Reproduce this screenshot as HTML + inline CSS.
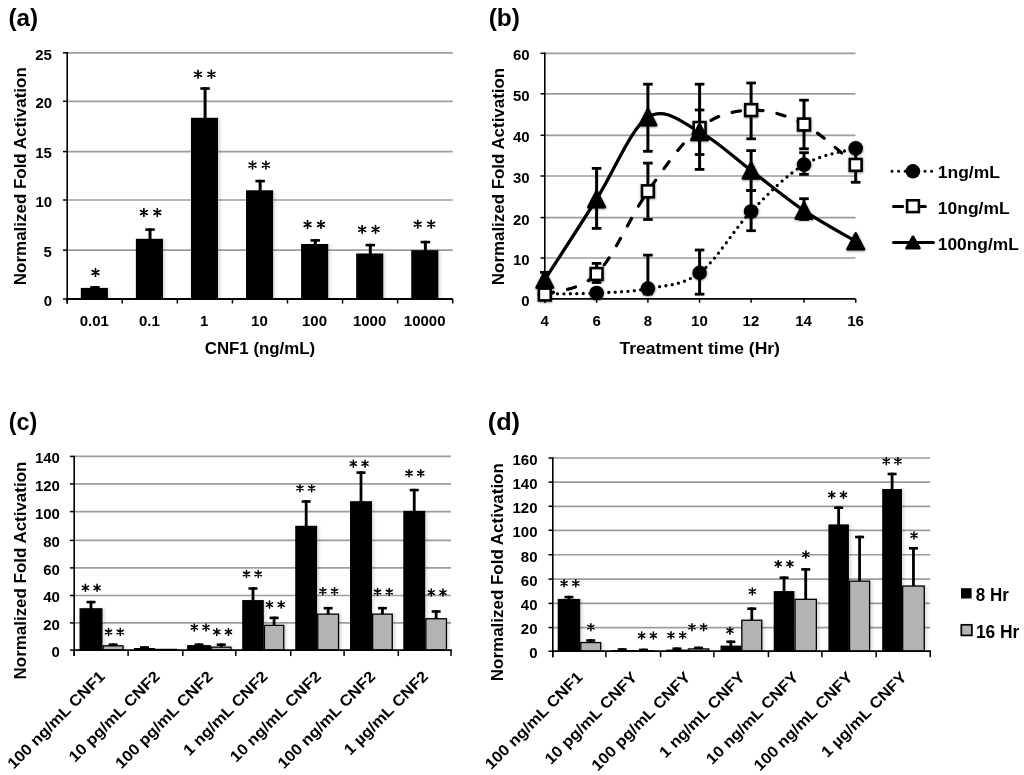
<!DOCTYPE html>
<html><head><meta charset="utf-8"><style>
html,body{margin:0;padding:0;background:#fff;}
body{width:1024px;height:775px;overflow:hidden;}
svg{display:block;filter:blur(0.35px);}
text{font-family:"Liberation Sans", sans-serif;font-weight:bold;fill:#000;}
</style></head><body>
<svg width="1024" height="775" viewBox="0 0 1024 775">
<defs><filter id="msh" x="-30%" y="-30%" width="160%" height="160%"><feDropShadow dx="0.3" dy="0.8" stdDeviation="0.9" flood-color="#000" flood-opacity="0.45"/></filter><filter id="bsh" x="-20%" y="-5%" width="140%" height="110%"><feDropShadow dx="2.2" dy="0.6" stdDeviation="1.4" flood-color="#000" flood-opacity="0.13"/></filter></defs>
<rect width="1024" height="775" fill="#fff"/>
<text x="8.49" y="25.70" font-size="24.50" textLength="29.61" lengthAdjust="spacingAndGlyphs">(a)</text>
<line x1="67.20" y1="250.20" x2="452.70" y2="250.20" stroke="#9c9c9c" stroke-width="1.7" />
<line x1="67.20" y1="200.00" x2="452.70" y2="200.00" stroke="#9c9c9c" stroke-width="1.7" />
<line x1="67.20" y1="151.60" x2="452.70" y2="151.60" stroke="#9c9c9c" stroke-width="1.7" />
<line x1="67.20" y1="101.30" x2="452.70" y2="101.30" stroke="#9c9c9c" stroke-width="1.7" />
<line x1="67.20" y1="52.80" x2="452.70" y2="52.80" stroke="#9c9c9c" stroke-width="1.7" />
<line x1="63.00" y1="250.20" x2="67.20" y2="250.20" stroke="#000" stroke-width="1.5" />
<line x1="63.00" y1="200.00" x2="67.20" y2="200.00" stroke="#000" stroke-width="1.5" />
<line x1="63.00" y1="151.60" x2="67.20" y2="151.60" stroke="#000" stroke-width="1.5" />
<line x1="63.00" y1="101.30" x2="67.20" y2="101.30" stroke="#000" stroke-width="1.5" />
<line x1="63.00" y1="52.80" x2="67.20" y2="52.80" stroke="#000" stroke-width="1.5" />
<line x1="63.00" y1="299.00" x2="67.20" y2="299.00" stroke="#000" stroke-width="1.5" />
<rect x="93.45" y="286.10" width="3.00" height="2.80" fill="#000"/>
<rect x="90.20" y="286.10" width="9.50" height="2.60" fill="#000"/>
<g filter="url(#bsh)">
<rect x="80.80" y="287.90" width="27.10" height="11.10" fill="#000"/>
</g>
<path d="M95.50,276.40L95.50,268.60M92.12,274.45L98.88,270.55M92.12,270.55L98.88,274.45" stroke="#000" stroke-width="1.65" stroke-linecap="round" fill="none"/>
<rect x="148.52" y="228.30" width="3.00" height="11.50" fill="#000"/>
<rect x="145.27" y="228.30" width="9.50" height="2.60" fill="#000"/>
<g filter="url(#bsh)">
<rect x="135.87" y="238.80" width="27.10" height="60.20" fill="#000"/>
</g>
<path d="M143.90,216.40L143.90,208.60M140.52,214.45L147.28,210.55M140.52,210.55L147.28,214.45" stroke="#000" stroke-width="1.65" stroke-linecap="round" fill="none"/>
<path d="M157.30,216.40L157.30,208.60M153.92,214.45L160.68,210.55M153.92,210.55L160.68,214.45" stroke="#000" stroke-width="1.65" stroke-linecap="round" fill="none"/>
<rect x="203.59" y="87.20" width="3.00" height="31.60" fill="#000"/>
<rect x="200.34" y="87.20" width="9.50" height="2.60" fill="#000"/>
<g filter="url(#bsh)">
<rect x="190.94" y="117.80" width="27.10" height="181.20" fill="#000"/>
</g>
<path d="M198.00,78.20L198.00,70.40M194.62,76.25L201.38,72.35M194.62,72.35L201.38,76.25" stroke="#000" stroke-width="1.65" stroke-linecap="round" fill="none"/>
<path d="M211.40,78.20L211.40,70.40M208.02,76.25L214.78,72.35M208.02,72.35L214.78,76.25" stroke="#000" stroke-width="1.65" stroke-linecap="round" fill="none"/>
<rect x="258.66" y="179.80" width="3.00" height="11.50" fill="#000"/>
<rect x="255.41" y="179.80" width="9.50" height="2.60" fill="#000"/>
<g filter="url(#bsh)">
<rect x="246.01" y="190.30" width="27.10" height="108.70" fill="#000"/>
</g>
<path d="M252.50,169.00L252.50,161.20M249.12,167.05L255.88,163.15M249.12,163.15L255.88,167.05" stroke="#000" stroke-width="1.65" stroke-linecap="round" fill="none"/>
<path d="M265.90,169.00L265.90,161.20M262.52,167.05L269.28,163.15M262.52,163.15L269.28,167.05" stroke="#000" stroke-width="1.65" stroke-linecap="round" fill="none"/>
<rect x="313.74" y="239.10" width="3.00" height="5.90" fill="#000"/>
<rect x="310.49" y="239.10" width="9.50" height="2.60" fill="#000"/>
<g filter="url(#bsh)">
<rect x="301.09" y="244.00" width="27.10" height="55.00" fill="#000"/>
</g>
<path d="M307.55,228.40L307.55,220.60M304.17,226.45L310.93,222.55M304.17,222.55L310.93,226.45" stroke="#000" stroke-width="1.65" stroke-linecap="round" fill="none"/>
<path d="M320.95,228.40L320.95,220.60M317.57,226.45L324.33,222.55M317.57,222.55L324.33,226.45" stroke="#000" stroke-width="1.65" stroke-linecap="round" fill="none"/>
<rect x="368.81" y="243.80" width="3.00" height="10.70" fill="#000"/>
<rect x="365.56" y="243.80" width="9.50" height="2.60" fill="#000"/>
<g filter="url(#bsh)">
<rect x="356.16" y="253.50" width="27.10" height="45.50" fill="#000"/>
</g>
<path d="M362.15,233.30L362.15,225.50M358.77,231.35L365.53,227.45M358.77,227.45L365.53,231.35" stroke="#000" stroke-width="1.65" stroke-linecap="round" fill="none"/>
<path d="M375.55,233.30L375.55,225.50M372.17,231.35L378.93,227.45M372.17,227.45L378.93,231.35" stroke="#000" stroke-width="1.65" stroke-linecap="round" fill="none"/>
<rect x="423.88" y="240.80" width="3.00" height="10.40" fill="#000"/>
<rect x="420.63" y="240.80" width="9.50" height="2.60" fill="#000"/>
<g filter="url(#bsh)">
<rect x="411.23" y="250.20" width="27.10" height="48.80" fill="#000"/>
</g>
<path d="M417.75,228.10L417.75,220.30M414.37,226.15L421.13,222.25M414.37,222.25L421.13,226.15" stroke="#000" stroke-width="1.65" stroke-linecap="round" fill="none"/>
<path d="M431.15,228.10L431.15,220.30M427.77,226.15L434.53,222.25M427.77,222.25L434.53,226.15" stroke="#000" stroke-width="1.65" stroke-linecap="round" fill="none"/>
<line x1="67.20" y1="52.00" x2="67.20" y2="303.50" stroke="#000" stroke-width="1.6" />
<rect x="68.20" y="299.00" width="389.50" height="6.00" fill="#fff"/>
<line x1="66.40" y1="299.00" x2="452.70" y2="299.00" stroke="#000" stroke-width="1.8" />
<line x1="67.20" y1="299.00" x2="67.20" y2="303.50" stroke="#000" stroke-width="1.5" />
<line x1="122.27" y1="299.00" x2="122.27" y2="303.50" stroke="#000" stroke-width="1.5" />
<line x1="177.34" y1="299.00" x2="177.34" y2="303.50" stroke="#000" stroke-width="1.5" />
<line x1="232.41" y1="299.00" x2="232.41" y2="303.50" stroke="#000" stroke-width="1.5" />
<line x1="287.49" y1="299.00" x2="287.49" y2="303.50" stroke="#000" stroke-width="1.5" />
<line x1="342.56" y1="299.00" x2="342.56" y2="303.50" stroke="#000" stroke-width="1.5" />
<line x1="397.63" y1="299.00" x2="397.63" y2="303.50" stroke="#000" stroke-width="1.5" />
<line x1="452.70" y1="299.00" x2="452.70" y2="303.50" stroke="#000" stroke-width="1.5" />
<text x="79.73" y="326.30" font-size="14.00" textLength="29.16" lengthAdjust="spacingAndGlyphs">0.01</text>
<text x="138.97" y="326.30" font-size="14.00" textLength="20.82" lengthAdjust="spacingAndGlyphs">0.1</text>
<text x="200.11" y="326.30" font-size="14.00" textLength="8.33" lengthAdjust="spacingAndGlyphs">1</text>
<text x="251.12" y="326.30" font-size="14.00" textLength="16.66" lengthAdjust="spacingAndGlyphs">10</text>
<text x="302.02" y="326.30" font-size="14.00" textLength="24.99" lengthAdjust="spacingAndGlyphs">100</text>
<text x="352.93" y="326.30" font-size="14.00" textLength="33.32" lengthAdjust="spacingAndGlyphs">1000</text>
<text x="403.84" y="326.30" font-size="14.00" textLength="41.66" lengthAdjust="spacingAndGlyphs">10000</text>
<text x="43.78" y="305.70" font-size="14.00" textLength="8.33" lengthAdjust="spacingAndGlyphs">0</text>
<text x="43.59" y="256.90" font-size="14.00" textLength="8.33" lengthAdjust="spacingAndGlyphs">5</text>
<text x="35.45" y="206.70" font-size="14.00" textLength="16.66" lengthAdjust="spacingAndGlyphs">10</text>
<text x="35.25" y="158.30" font-size="14.00" textLength="16.66" lengthAdjust="spacingAndGlyphs">15</text>
<text x="35.45" y="108.00" font-size="14.00" textLength="16.66" lengthAdjust="spacingAndGlyphs">20</text>
<text x="35.25" y="59.50" font-size="14.00" textLength="16.66" lengthAdjust="spacingAndGlyphs">25</text>
<text x="204.81" y="354.30" font-size="17.00" textLength="110.23" lengthAdjust="spacingAndGlyphs">CNF1 (ng/mL)</text>
<text transform="translate(26.00,285.13) rotate(-90)" x="0" y="0" font-size="17.00" textLength="217.88" lengthAdjust="spacingAndGlyphs">Normalized Fold Activation</text>
<text x="488.68" y="25.90" font-size="24.50" textLength="31.35" lengthAdjust="spacingAndGlyphs">(b)</text>
<line x1="544.80" y1="258.00" x2="855.50" y2="258.00" stroke="#9c9c9c" stroke-width="1.7" />
<line x1="544.80" y1="217.60" x2="855.50" y2="217.60" stroke="#9c9c9c" stroke-width="1.7" />
<line x1="544.80" y1="176.00" x2="855.50" y2="176.00" stroke="#9c9c9c" stroke-width="1.7" />
<line x1="544.80" y1="135.30" x2="855.50" y2="135.30" stroke="#9c9c9c" stroke-width="1.7" />
<line x1="544.80" y1="93.80" x2="855.50" y2="93.80" stroke="#9c9c9c" stroke-width="1.7" />
<line x1="544.80" y1="53.30" x2="855.50" y2="53.30" stroke="#9c9c9c" stroke-width="1.7" />
<line x1="540.50" y1="298.80" x2="544.80" y2="298.80" stroke="#000" stroke-width="1.5" />
<text x="521.38" y="305.90" font-size="14.00" textLength="8.33" lengthAdjust="spacingAndGlyphs">0</text>
<line x1="540.50" y1="258.00" x2="544.80" y2="258.00" stroke="#000" stroke-width="1.5" />
<text x="513.05" y="265.10" font-size="14.00" textLength="16.66" lengthAdjust="spacingAndGlyphs">10</text>
<line x1="540.50" y1="217.60" x2="544.80" y2="217.60" stroke="#000" stroke-width="1.5" />
<text x="513.05" y="224.70" font-size="14.00" textLength="16.66" lengthAdjust="spacingAndGlyphs">20</text>
<line x1="540.50" y1="176.00" x2="544.80" y2="176.00" stroke="#000" stroke-width="1.5" />
<text x="513.05" y="183.10" font-size="14.00" textLength="16.66" lengthAdjust="spacingAndGlyphs">30</text>
<line x1="540.50" y1="135.30" x2="544.80" y2="135.30" stroke="#000" stroke-width="1.5" />
<text x="513.05" y="142.40" font-size="14.00" textLength="16.66" lengthAdjust="spacingAndGlyphs">40</text>
<line x1="540.50" y1="93.80" x2="544.80" y2="93.80" stroke="#000" stroke-width="1.5" />
<text x="513.05" y="100.90" font-size="14.00" textLength="16.66" lengthAdjust="spacingAndGlyphs">50</text>
<line x1="540.50" y1="53.30" x2="544.80" y2="53.30" stroke="#000" stroke-width="1.5" />
<text x="513.05" y="60.40" font-size="14.00" textLength="16.66" lengthAdjust="spacingAndGlyphs">60</text>
<line x1="544.80" y1="52.50" x2="544.80" y2="302.80" stroke="#000" stroke-width="1.6" />
<line x1="544.00" y1="298.80" x2="855.50" y2="298.80" stroke="#000" stroke-width="1.8" />
<line x1="544.80" y1="298.80" x2="544.80" y2="302.80" stroke="#000" stroke-width="1.5" />
<text x="540.56" y="325.70" font-size="14.00" textLength="8.33" lengthAdjust="spacingAndGlyphs">4</text>
<line x1="596.60" y1="298.80" x2="596.60" y2="302.80" stroke="#000" stroke-width="1.5" />
<text x="592.43" y="325.70" font-size="14.00" textLength="8.33" lengthAdjust="spacingAndGlyphs">6</text>
<line x1="647.90" y1="298.80" x2="647.90" y2="302.80" stroke="#000" stroke-width="1.5" />
<text x="643.73" y="325.70" font-size="14.00" textLength="8.33" lengthAdjust="spacingAndGlyphs">8</text>
<line x1="699.60" y1="298.80" x2="699.60" y2="302.80" stroke="#000" stroke-width="1.5" />
<text x="691.10" y="325.70" font-size="14.00" textLength="16.66" lengthAdjust="spacingAndGlyphs">10</text>
<line x1="751.10" y1="298.80" x2="751.10" y2="302.80" stroke="#000" stroke-width="1.5" />
<text x="742.60" y="325.70" font-size="14.00" textLength="16.66" lengthAdjust="spacingAndGlyphs">12</text>
<line x1="804.00" y1="298.80" x2="804.00" y2="302.80" stroke="#000" stroke-width="1.5" />
<text x="795.24" y="325.70" font-size="14.00" textLength="16.66" lengthAdjust="spacingAndGlyphs">14</text>
<line x1="855.70" y1="298.80" x2="855.70" y2="302.80" stroke="#000" stroke-width="1.5" />
<text x="847.17" y="325.70" font-size="14.00" textLength="16.66" lengthAdjust="spacingAndGlyphs">16</text>
<text x="619.50" y="353.60" font-size="17.00" textLength="160.46" lengthAdjust="spacingAndGlyphs">Treatment time (Hr)</text>
<text transform="translate(503.80,285.13) rotate(-90)" x="0" y="0" font-size="17.00" textLength="217.27" lengthAdjust="spacingAndGlyphs">Normalized Fold Activation</text>
<path d="M544.80,294.00 C553.43,293.83 579.42,293.90 596.60,293.00 C613.78,292.10 630.73,291.95 647.90,288.60 C665.07,285.25 682.40,285.75 699.60,272.90 C716.80,260.05 733.70,229.55 751.10,211.50 C768.50,193.45 786.57,175.12 804.00,164.60 C821.43,154.08 847.08,151.10 855.70,148.40" fill="none" stroke="#000" stroke-width="3.3" stroke-linecap="round" stroke-dasharray="0 6.4"/>
<path d="M544.80,294.50 C553.43,291.08 579.42,291.20 596.60,274.00 C613.78,256.80 630.73,215.63 647.90,191.30 C665.07,166.97 682.40,141.53 699.60,128.00 C716.80,114.47 733.70,110.68 751.10,110.10 C768.50,109.52 786.57,115.37 804.00,124.50 C821.43,133.63 847.08,158.17 855.70,164.90" fill="none" stroke="#000" stroke-width="3.2" stroke-linecap="round" stroke-dasharray="8.5 14.15" stroke-dashoffset="-0.6"/>
<path d="M544.80,279.60 C553.43,266.20 579.42,226.27 596.60,199.20 C613.78,172.13 630.73,128.42 647.90,117.20 C665.07,105.98 682.40,123.02 699.60,131.90 C716.80,140.78 733.70,157.38 751.10,170.50 C768.50,183.62 786.57,198.80 804.00,210.60 C821.43,222.40 847.08,236.18 855.70,241.30" fill="none" stroke="#000" stroke-width="3.3" stroke-linecap="round"/>
<rect x="646.40" y="255.10" width="3.00" height="38.90" fill="#000"/>
<rect x="643.10" y="253.70" width="9.60" height="2.80" fill="#000"/>
<rect x="643.10" y="292.60" width="9.60" height="2.80" fill="#000"/>
<rect x="698.10" y="250.00" width="3.00" height="44.20" fill="#000"/>
<rect x="694.80" y="248.60" width="9.60" height="2.80" fill="#000"/>
<rect x="694.80" y="292.80" width="9.60" height="2.80" fill="#000"/>
<rect x="749.60" y="190.40" width="3.00" height="40.30" fill="#000"/>
<rect x="746.30" y="189.00" width="9.60" height="2.80" fill="#000"/>
<rect x="746.30" y="229.30" width="9.60" height="2.80" fill="#000"/>
<rect x="802.50" y="152.70" width="3.00" height="21.70" fill="#000"/>
<rect x="799.20" y="151.30" width="9.60" height="2.80" fill="#000"/>
<rect x="799.20" y="173.00" width="9.60" height="2.80" fill="#000"/>
<rect x="595.10" y="263.40" width="3.00" height="19.10" fill="#000"/>
<rect x="591.80" y="262.00" width="9.60" height="2.80" fill="#000"/>
<rect x="591.80" y="281.10" width="9.60" height="2.80" fill="#000"/>
<rect x="646.40" y="163.10" width="3.00" height="56.40" fill="#000"/>
<rect x="643.10" y="161.70" width="9.60" height="2.80" fill="#000"/>
<rect x="643.10" y="218.10" width="9.60" height="2.80" fill="#000"/>
<rect x="698.10" y="84.20" width="3.00" height="85.20" fill="#000"/>
<rect x="694.80" y="82.80" width="9.60" height="2.80" fill="#000"/>
<rect x="694.80" y="168.00" width="9.60" height="2.80" fill="#000"/>
<rect x="749.60" y="83.00" width="3.00" height="55.80" fill="#000"/>
<rect x="746.30" y="81.60" width="9.60" height="2.80" fill="#000"/>
<rect x="746.30" y="137.40" width="9.60" height="2.80" fill="#000"/>
<rect x="802.50" y="100.20" width="3.00" height="48.60" fill="#000"/>
<rect x="799.20" y="98.80" width="9.60" height="2.80" fill="#000"/>
<rect x="799.20" y="147.40" width="9.60" height="2.80" fill="#000"/>
<rect x="854.20" y="147.50" width="3.00" height="34.80" fill="#000"/>
<rect x="850.90" y="146.10" width="9.60" height="2.80" fill="#000"/>
<rect x="850.90" y="180.90" width="9.60" height="2.80" fill="#000"/>
<rect x="543.30" y="272.40" width="3.00" height="12.60" fill="#000"/>
<rect x="540.00" y="271.00" width="9.60" height="2.80" fill="#000"/>
<rect x="540.00" y="283.60" width="9.60" height="2.80" fill="#000"/>
<rect x="595.10" y="168.40" width="3.00" height="60.00" fill="#000"/>
<rect x="591.80" y="167.00" width="9.60" height="2.80" fill="#000"/>
<rect x="591.80" y="227.00" width="9.60" height="2.80" fill="#000"/>
<rect x="646.40" y="84.20" width="3.00" height="67.10" fill="#000"/>
<rect x="643.10" y="82.80" width="9.60" height="2.80" fill="#000"/>
<rect x="643.10" y="149.90" width="9.60" height="2.80" fill="#000"/>
<rect x="698.10" y="110.00" width="3.00" height="44.50" fill="#000"/>
<rect x="694.80" y="108.60" width="9.60" height="2.80" fill="#000"/>
<rect x="694.80" y="153.10" width="9.60" height="2.80" fill="#000"/>
<rect x="749.60" y="150.60" width="3.00" height="39.80" fill="#000"/>
<rect x="746.30" y="149.20" width="9.60" height="2.80" fill="#000"/>
<rect x="746.30" y="189.00" width="9.60" height="2.80" fill="#000"/>
<rect x="802.50" y="198.70" width="3.00" height="20.80" fill="#000"/>
<rect x="799.20" y="197.30" width="9.60" height="2.80" fill="#000"/>
<rect x="799.20" y="218.10" width="9.60" height="2.80" fill="#000"/>
<g filter="url(#msh)">
<circle cx="544.80" cy="294.00" r="7.3" fill="#000"/>
<circle cx="596.60" cy="293.00" r="7.3" fill="#000"/>
<circle cx="647.90" cy="288.60" r="7.3" fill="#000"/>
<circle cx="699.60" cy="272.90" r="7.3" fill="#000"/>
<circle cx="751.10" cy="211.50" r="7.3" fill="#000"/>
<circle cx="804.00" cy="164.60" r="7.3" fill="#000"/>
<circle cx="855.70" cy="148.40" r="7.3" fill="#000"/>
<rect x="538.90" y="288.60" width="11.8" height="11.8" fill="#fff" stroke="#000" stroke-width="2.6"/>
<rect x="590.70" y="268.10" width="11.8" height="11.8" fill="#fff" stroke="#000" stroke-width="2.6"/>
<rect x="642.00" y="185.40" width="11.8" height="11.8" fill="#fff" stroke="#000" stroke-width="2.6"/>
<rect x="693.70" y="122.10" width="11.8" height="11.8" fill="#fff" stroke="#000" stroke-width="2.6"/>
<rect x="745.20" y="104.20" width="11.8" height="11.8" fill="#fff" stroke="#000" stroke-width="2.6"/>
<rect x="798.10" y="118.60" width="11.8" height="11.8" fill="#fff" stroke="#000" stroke-width="2.6"/>
<rect x="849.80" y="159.00" width="11.8" height="11.8" fill="#fff" stroke="#000" stroke-width="2.6"/>
<path d="M544.80,271.60 L553.05,287.60 L536.55,287.60 Z" fill="#000" stroke="#000" stroke-width="2.6" stroke-linejoin="round"/>
<path d="M596.60,191.20 L604.85,207.20 L588.35,207.20 Z" fill="#000" stroke="#000" stroke-width="2.6" stroke-linejoin="round"/>
<path d="M647.90,109.20 L656.15,125.20 L639.65,125.20 Z" fill="#000" stroke="#000" stroke-width="2.6" stroke-linejoin="round"/>
<path d="M699.60,123.90 L707.85,139.90 L691.35,139.90 Z" fill="#000" stroke="#000" stroke-width="2.6" stroke-linejoin="round"/>
<path d="M751.10,162.50 L759.35,178.50 L742.85,178.50 Z" fill="#000" stroke="#000" stroke-width="2.6" stroke-linejoin="round"/>
<path d="M804.00,202.60 L812.25,218.60 L795.75,218.60 Z" fill="#000" stroke="#000" stroke-width="2.6" stroke-linejoin="round"/>
<path d="M855.70,233.30 L863.95,249.30 L847.45,249.30 Z" fill="#000" stroke="#000" stroke-width="2.6" stroke-linejoin="round"/>
</g>
<path d="M892,171.3 L934,171.3" stroke="#000" stroke-width="3.1" stroke-linecap="round" stroke-dasharray="0 6.6"/>
<circle cx="912.90" cy="171.30" r="7.3" fill="#000"/>
<path d="M893.5,206.5 L926,206.5" stroke="#000" stroke-width="3" stroke-linecap="round" stroke-dasharray="9.2 13.45"/>
<rect x="907.10" y="200.30" width="11.8" height="11.8" fill="#fff" stroke="#000" stroke-width="2.6"/>
<path d="M893.5,242.5 L933.5,242.5" stroke="#000" stroke-width="3" stroke-linecap="round"/>
<path d="M913.00,236.75 L919.50,248.25 L906.50,248.25 Z" fill="#000" stroke="#000" stroke-width="2.6" stroke-linejoin="round"/>
<text x="937.80" y="177.70" font-size="16.60" textLength="62.14" lengthAdjust="spacingAndGlyphs">1ng/mL</text>
<text x="937.80" y="214.10" font-size="16.60" textLength="71.84" lengthAdjust="spacingAndGlyphs">10ng/mL</text>
<text x="937.81" y="250.00" font-size="16.60" textLength="81.03" lengthAdjust="spacingAndGlyphs">100ng/mL</text>
<text x="8.74" y="430.00" font-size="24.50" textLength="28.52" lengthAdjust="spacingAndGlyphs">(c)</text>
<line x1="74.20" y1="622.90" x2="451.00" y2="622.90" stroke="#9c9c9c" stroke-width="1.7" />
<line x1="74.20" y1="595.50" x2="451.00" y2="595.50" stroke="#9c9c9c" stroke-width="1.7" />
<line x1="74.20" y1="567.90" x2="451.00" y2="567.90" stroke="#9c9c9c" stroke-width="1.7" />
<line x1="74.20" y1="540.40" x2="451.00" y2="540.40" stroke="#9c9c9c" stroke-width="1.7" />
<line x1="74.20" y1="511.60" x2="451.00" y2="511.60" stroke="#9c9c9c" stroke-width="1.7" />
<line x1="74.20" y1="483.90" x2="451.00" y2="483.90" stroke="#9c9c9c" stroke-width="1.7" />
<line x1="74.20" y1="456.40" x2="451.00" y2="456.40" stroke="#9c9c9c" stroke-width="1.7" />
<line x1="69.90" y1="650.10" x2="74.20" y2="650.10" stroke="#000" stroke-width="1.5" />
<text x="51.58" y="657.00" font-size="14.00" textLength="8.33" lengthAdjust="spacingAndGlyphs">0</text>
<line x1="69.90" y1="622.90" x2="74.20" y2="622.90" stroke="#000" stroke-width="1.5" />
<text x="43.25" y="629.80" font-size="14.00" textLength="16.66" lengthAdjust="spacingAndGlyphs">20</text>
<line x1="69.90" y1="595.50" x2="74.20" y2="595.50" stroke="#000" stroke-width="1.5" />
<text x="43.25" y="602.40" font-size="14.00" textLength="16.66" lengthAdjust="spacingAndGlyphs">40</text>
<line x1="69.90" y1="567.90" x2="74.20" y2="567.90" stroke="#000" stroke-width="1.5" />
<text x="43.25" y="574.80" font-size="14.00" textLength="16.66" lengthAdjust="spacingAndGlyphs">60</text>
<line x1="69.90" y1="540.40" x2="74.20" y2="540.40" stroke="#000" stroke-width="1.5" />
<text x="43.25" y="547.30" font-size="14.00" textLength="16.66" lengthAdjust="spacingAndGlyphs">80</text>
<line x1="69.90" y1="511.60" x2="74.20" y2="511.60" stroke="#000" stroke-width="1.5" />
<text x="34.92" y="518.50" font-size="14.00" textLength="24.99" lengthAdjust="spacingAndGlyphs">100</text>
<line x1="69.90" y1="483.90" x2="74.20" y2="483.90" stroke="#000" stroke-width="1.5" />
<text x="34.92" y="490.80" font-size="14.00" textLength="24.99" lengthAdjust="spacingAndGlyphs">120</text>
<line x1="69.90" y1="456.40" x2="74.20" y2="456.40" stroke="#000" stroke-width="1.5" />
<text x="34.92" y="463.30" font-size="14.00" textLength="24.99" lengthAdjust="spacingAndGlyphs">140</text>
<rect x="89.60" y="600.80" width="2.80" height="8.40" fill="#000"/>
<rect x="86.50" y="600.80" width="9.00" height="2.60" fill="#000"/>
<rect x="111.70" y="643.40" width="2.80" height="2.80" fill="#000"/>
<rect x="108.60" y="643.40" width="9.00" height="2.60" fill="#000"/>
<g filter="url(#bsh)">
<rect x="80.15" y="608.85" width="21.70" height="41.25" fill="#000" stroke="#000" stroke-width="1.3"/>
<rect x="103.15" y="645.85" width="19.90" height="4.25" fill="#b3b3b3" stroke="#000" stroke-width="1.3"/>
</g>
<rect x="143.10" y="646.20" width="2.80" height="2.70" fill="#000"/>
<rect x="140.00" y="646.20" width="9.00" height="2.60" fill="#000"/>
<g filter="url(#bsh)">
<rect x="134.65" y="648.55" width="19.70" height="1.55" fill="#000" stroke="#000" stroke-width="1.3"/>
<rect x="155.65" y="649.45" width="20.60" height="0.65" fill="#b3b3b3" stroke="#000" stroke-width="1.3"/>
</g>
<rect x="197.60" y="643.40" width="2.80" height="2.70" fill="#000"/>
<rect x="194.50" y="643.40" width="9.00" height="2.60" fill="#000"/>
<rect x="219.85" y="643.40" width="2.80" height="4.10" fill="#000"/>
<rect x="216.75" y="643.40" width="9.00" height="2.60" fill="#000"/>
<g filter="url(#bsh)">
<rect x="187.75" y="645.75" width="22.50" height="4.35" fill="#000" stroke="#000" stroke-width="1.3"/>
<rect x="211.55" y="647.15" width="19.40" height="2.95" fill="#b3b3b3" stroke="#000" stroke-width="1.3"/>
</g>
<rect x="251.60" y="587.20" width="2.80" height="13.90" fill="#000"/>
<rect x="248.50" y="587.20" width="9.00" height="2.60" fill="#000"/>
<rect x="272.70" y="616.60" width="2.80" height="9.10" fill="#000"/>
<rect x="269.60" y="616.60" width="9.00" height="2.60" fill="#000"/>
<g filter="url(#bsh)">
<rect x="242.85" y="600.75" width="20.30" height="49.35" fill="#000" stroke="#000" stroke-width="1.3"/>
<rect x="264.45" y="625.35" width="19.30" height="24.75" fill="#b3b3b3" stroke="#000" stroke-width="1.3"/>
</g>
<rect x="304.78" y="500.20" width="2.80" height="26.60" fill="#000"/>
<rect x="301.68" y="500.20" width="9.00" height="2.60" fill="#000"/>
<rect x="326.75" y="606.90" width="2.80" height="7.60" fill="#000"/>
<rect x="323.65" y="606.90" width="9.00" height="2.60" fill="#000"/>
<g filter="url(#bsh)">
<rect x="295.90" y="526.45" width="20.55" height="123.65" fill="#000" stroke="#000" stroke-width="1.3"/>
<rect x="317.75" y="614.15" width="20.80" height="35.95" fill="#b3b3b3" stroke="#000" stroke-width="1.3"/>
</g>
<rect x="359.60" y="471.30" width="2.80" height="30.90" fill="#000"/>
<rect x="356.50" y="471.30" width="9.00" height="2.60" fill="#000"/>
<rect x="381.05" y="606.90" width="2.80" height="7.60" fill="#000"/>
<rect x="377.95" y="606.90" width="9.00" height="2.60" fill="#000"/>
<g filter="url(#bsh)">
<rect x="350.65" y="501.85" width="20.70" height="148.25" fill="#000" stroke="#000" stroke-width="1.3"/>
<rect x="372.65" y="614.15" width="19.60" height="35.95" fill="#b3b3b3" stroke="#000" stroke-width="1.3"/>
</g>
<rect x="412.85" y="488.80" width="2.80" height="23.10" fill="#000"/>
<rect x="409.75" y="488.80" width="9.00" height="2.60" fill="#000"/>
<rect x="434.75" y="610.20" width="2.80" height="8.90" fill="#000"/>
<rect x="431.65" y="610.20" width="9.00" height="2.60" fill="#000"/>
<g filter="url(#bsh)">
<rect x="403.95" y="511.55" width="20.60" height="138.55" fill="#000" stroke="#000" stroke-width="1.3"/>
<rect x="425.85" y="618.75" width="20.60" height="31.35" fill="#b3b3b3" stroke="#000" stroke-width="1.3"/>
</g>
<path d="M85.40,591.30L85.40,584.30M82.37,589.55L88.43,586.05M82.37,586.05L88.43,589.55" stroke="#000" stroke-width="1.55" stroke-linecap="round" fill="none"/>
<path d="M97.10,591.30L97.10,584.30M94.07,589.55L100.13,586.05M94.07,586.05L100.13,589.55" stroke="#000" stroke-width="1.55" stroke-linecap="round" fill="none"/>
<path d="M108.55,635.50L108.55,628.50M105.52,633.75L111.58,630.25M105.52,630.25L111.58,633.75" stroke="#000" stroke-width="1.55" stroke-linecap="round" fill="none"/>
<path d="M120.25,635.50L120.25,628.50M117.22,633.75L123.28,630.25M117.22,630.25L123.28,633.75" stroke="#000" stroke-width="1.55" stroke-linecap="round" fill="none"/>
<path d="M194.30,630.90L194.30,623.90M191.27,629.15L197.33,625.65M191.27,625.65L197.33,629.15" stroke="#000" stroke-width="1.55" stroke-linecap="round" fill="none"/>
<path d="M206.00,630.90L206.00,623.90M202.97,629.15L209.03,625.65M202.97,625.65L209.03,629.15" stroke="#000" stroke-width="1.55" stroke-linecap="round" fill="none"/>
<path d="M216.80,635.40L216.80,628.40M213.77,633.65L219.83,630.15M213.77,630.15L219.83,633.65" stroke="#000" stroke-width="1.55" stroke-linecap="round" fill="none"/>
<path d="M228.50,635.40L228.50,628.40M225.47,633.65L231.53,630.15M225.47,630.15L231.53,633.65" stroke="#000" stroke-width="1.55" stroke-linecap="round" fill="none"/>
<path d="M246.50,577.50L246.50,570.50M243.47,575.75L249.53,572.25M243.47,572.25L249.53,575.75" stroke="#000" stroke-width="1.55" stroke-linecap="round" fill="none"/>
<path d="M258.20,577.50L258.20,570.50M255.17,575.75L261.23,572.25M255.17,572.25L261.23,575.75" stroke="#000" stroke-width="1.55" stroke-linecap="round" fill="none"/>
<path d="M269.50,608.10L269.50,601.10M266.47,606.35L272.53,602.85M266.47,602.85L272.53,606.35" stroke="#000" stroke-width="1.55" stroke-linecap="round" fill="none"/>
<path d="M281.20,608.10L281.20,601.10M278.17,606.35L284.23,602.85M278.17,602.85L284.23,606.35" stroke="#000" stroke-width="1.55" stroke-linecap="round" fill="none"/>
<path d="M299.95,491.70L299.95,484.70M296.92,489.95L302.98,486.45M296.92,486.45L302.98,489.95" stroke="#000" stroke-width="1.55" stroke-linecap="round" fill="none"/>
<path d="M311.65,491.70L311.65,484.70M308.62,489.95L314.68,486.45M308.62,486.45L314.68,489.95" stroke="#000" stroke-width="1.55" stroke-linecap="round" fill="none"/>
<path d="M322.85,594.70L322.85,587.70M319.82,592.95L325.88,589.45M319.82,589.45L325.88,592.95" stroke="#000" stroke-width="1.55" stroke-linecap="round" fill="none"/>
<path d="M334.55,594.70L334.55,587.70M331.52,592.95L337.58,589.45M331.52,589.45L337.58,592.95" stroke="#000" stroke-width="1.55" stroke-linecap="round" fill="none"/>
<path d="M353.35,467.20L353.35,460.20M350.32,465.45L356.38,461.95M350.32,461.95L356.38,465.45" stroke="#000" stroke-width="1.55" stroke-linecap="round" fill="none"/>
<path d="M365.05,467.20L365.05,460.20M362.02,465.45L368.08,461.95M362.02,461.95L368.08,465.45" stroke="#000" stroke-width="1.55" stroke-linecap="round" fill="none"/>
<path d="M377.55,595.50L377.55,588.50M374.52,593.75L380.58,590.25M374.52,590.25L380.58,593.75" stroke="#000" stroke-width="1.55" stroke-linecap="round" fill="none"/>
<path d="M389.25,595.50L389.25,588.50M386.22,593.75L392.28,590.25M386.22,590.25L392.28,593.75" stroke="#000" stroke-width="1.55" stroke-linecap="round" fill="none"/>
<path d="M409.05,476.75L409.05,469.75M406.02,475.00L412.08,471.50M406.02,471.50L412.08,475.00" stroke="#000" stroke-width="1.55" stroke-linecap="round" fill="none"/>
<path d="M420.75,476.75L420.75,469.75M417.72,475.00L423.78,471.50M417.72,471.50L423.78,475.00" stroke="#000" stroke-width="1.55" stroke-linecap="round" fill="none"/>
<path d="M431.25,596.10L431.25,589.10M428.22,594.35L434.28,590.85M428.22,590.85L434.28,594.35" stroke="#000" stroke-width="1.55" stroke-linecap="round" fill="none"/>
<path d="M442.95,596.10L442.95,589.10M439.92,594.35L445.98,590.85M439.92,590.85L445.98,594.35" stroke="#000" stroke-width="1.55" stroke-linecap="round" fill="none"/>
<line x1="74.20" y1="455.70" x2="74.20" y2="656.10" stroke="#000" stroke-width="1.6" />
<rect x="75.20" y="650.10" width="380.80" height="6.00" fill="#fff"/>
<line x1="73.40" y1="650.10" x2="451.80" y2="650.10" stroke="#000" stroke-width="1.8" />
<line x1="74.20" y1="650.10" x2="74.20" y2="656.10" stroke="#000" stroke-width="1.5" />
<line x1="128.10" y1="650.10" x2="128.10" y2="656.10" stroke="#000" stroke-width="1.5" />
<line x1="182.80" y1="650.10" x2="182.80" y2="656.10" stroke="#000" stroke-width="1.5" />
<line x1="235.80" y1="650.10" x2="235.80" y2="656.10" stroke="#000" stroke-width="1.5" />
<line x1="290.70" y1="650.10" x2="290.70" y2="656.10" stroke="#000" stroke-width="1.5" />
<line x1="344.10" y1="650.10" x2="344.10" y2="656.10" stroke="#000" stroke-width="1.5" />
<line x1="398.30" y1="650.10" x2="398.30" y2="656.10" stroke="#000" stroke-width="1.5" />
<line x1="451.00" y1="650.10" x2="451.00" y2="656.10" stroke="#000" stroke-width="1.5" />
<text transform="translate(13.64,769.76) rotate(-45)" x="0" y="0" font-size="15.50" textLength="130.51" lengthAdjust="spacingAndGlyphs">100 ng/mL CNF1</text>
<text transform="translate(75.04,763.06) rotate(-45)" x="0" y="0" font-size="15.50" textLength="121.25" lengthAdjust="spacingAndGlyphs">10 pg/mL CNF2</text>
<text transform="translate(121.49,769.61) rotate(-45)" x="0" y="0" font-size="15.50" textLength="130.51" lengthAdjust="spacingAndGlyphs">100 pg/mL CNF2</text>
<text transform="translate(189.49,756.51) rotate(-45)" x="0" y="0" font-size="15.50" textLength="111.98" lengthAdjust="spacingAndGlyphs">1 ng/mL CNF2</text>
<text transform="translate(236.34,763.06) rotate(-45)" x="0" y="0" font-size="15.50" textLength="121.25" lengthAdjust="spacingAndGlyphs">10 ng/mL CNF2</text>
<text transform="translate(283.99,769.61) rotate(-45)" x="0" y="0" font-size="15.50" textLength="130.51" lengthAdjust="spacingAndGlyphs">100 ng/mL CNF2</text>
<text transform="translate(350.20,756.10) rotate(-45)" x="0" y="0" font-size="15.50" textLength="111.41" lengthAdjust="spacingAndGlyphs">1 µg/mL CNF2</text>
<text transform="translate(25.50,679.43) rotate(-90)" x="0" y="0" font-size="17.00" textLength="217.78" lengthAdjust="spacingAndGlyphs">Normalized Fold Activation</text>
<text x="487.74" y="430.00" font-size="24.50" textLength="32.32" lengthAdjust="spacingAndGlyphs">(d)</text>
<line x1="552.80" y1="627.55" x2="930.20" y2="627.55" stroke="#9c9c9c" stroke-width="1.7" />
<line x1="552.80" y1="603.40" x2="930.20" y2="603.40" stroke="#9c9c9c" stroke-width="1.7" />
<line x1="552.80" y1="579.10" x2="930.20" y2="579.10" stroke="#9c9c9c" stroke-width="1.7" />
<line x1="552.80" y1="554.75" x2="930.20" y2="554.75" stroke="#9c9c9c" stroke-width="1.7" />
<line x1="552.80" y1="530.30" x2="930.20" y2="530.30" stroke="#9c9c9c" stroke-width="1.7" />
<line x1="552.80" y1="506.30" x2="930.20" y2="506.30" stroke="#9c9c9c" stroke-width="1.7" />
<line x1="552.80" y1="482.10" x2="930.20" y2="482.10" stroke="#9c9c9c" stroke-width="1.7" />
<line x1="552.80" y1="458.00" x2="930.20" y2="458.00" stroke="#9c9c9c" stroke-width="1.7" />
<line x1="548.50" y1="651.20" x2="552.80" y2="651.20" stroke="#000" stroke-width="1.5" />
<text x="529.18" y="658.10" font-size="14.00" textLength="8.33" lengthAdjust="spacingAndGlyphs">0</text>
<line x1="548.50" y1="627.55" x2="552.80" y2="627.55" stroke="#000" stroke-width="1.5" />
<text x="520.85" y="634.45" font-size="14.00" textLength="16.66" lengthAdjust="spacingAndGlyphs">20</text>
<line x1="548.50" y1="603.40" x2="552.80" y2="603.40" stroke="#000" stroke-width="1.5" />
<text x="520.85" y="610.30" font-size="14.00" textLength="16.66" lengthAdjust="spacingAndGlyphs">40</text>
<line x1="548.50" y1="579.10" x2="552.80" y2="579.10" stroke="#000" stroke-width="1.5" />
<text x="520.85" y="586.00" font-size="14.00" textLength="16.66" lengthAdjust="spacingAndGlyphs">60</text>
<line x1="548.50" y1="554.75" x2="552.80" y2="554.75" stroke="#000" stroke-width="1.5" />
<text x="520.85" y="561.65" font-size="14.00" textLength="16.66" lengthAdjust="spacingAndGlyphs">80</text>
<line x1="548.50" y1="530.30" x2="552.80" y2="530.30" stroke="#000" stroke-width="1.5" />
<text x="512.52" y="537.20" font-size="14.00" textLength="24.99" lengthAdjust="spacingAndGlyphs">100</text>
<line x1="548.50" y1="506.30" x2="552.80" y2="506.30" stroke="#000" stroke-width="1.5" />
<text x="512.52" y="513.20" font-size="14.00" textLength="24.99" lengthAdjust="spacingAndGlyphs">120</text>
<line x1="548.50" y1="482.10" x2="552.80" y2="482.10" stroke="#000" stroke-width="1.5" />
<text x="512.52" y="489.00" font-size="14.00" textLength="24.99" lengthAdjust="spacingAndGlyphs">140</text>
<line x1="548.50" y1="458.00" x2="552.80" y2="458.00" stroke="#000" stroke-width="1.5" />
<text x="512.52" y="464.90" font-size="14.00" textLength="24.99" lengthAdjust="spacingAndGlyphs">160</text>
<rect x="567.55" y="595.80" width="2.80" height="4.10" fill="#000"/>
<rect x="564.45" y="595.80" width="9.00" height="2.60" fill="#000"/>
<rect x="589.35" y="639.20" width="2.80" height="3.70" fill="#000"/>
<rect x="586.25" y="639.20" width="9.00" height="2.60" fill="#000"/>
<g filter="url(#bsh)">
<rect x="558.35" y="599.55" width="21.20" height="51.65" fill="#000" stroke="#000" stroke-width="1.3"/>
<rect x="580.85" y="642.55" width="19.80" height="8.65" fill="#b3b3b3" stroke="#000" stroke-width="1.3"/>
</g>
<rect x="620.85" y="648.20" width="2.80" height="2.80" fill="#000"/>
<rect x="617.75" y="648.20" width="9.00" height="2.60" fill="#000"/>
<rect x="642.10" y="648.60" width="2.80" height="2.60" fill="#000"/>
<rect x="639.00" y="648.60" width="9.00" height="2.60" fill="#000"/>
<g filter="url(#bsh)">
<rect x="612.15" y="650.65" width="20.20" height="0.55" fill="#000" stroke="#000" stroke-width="1.3"/>
<rect x="633.65" y="650.85" width="19.70" height="0.35" fill="#b3b3b3" stroke="#000" stroke-width="1.3"/>
</g>
<rect x="675.55" y="647.40" width="2.80" height="3.20" fill="#000"/>
<rect x="672.45" y="647.40" width="9.00" height="2.60" fill="#000"/>
<rect x="697.15" y="646.60" width="2.80" height="2.70" fill="#000"/>
<rect x="694.05" y="646.60" width="9.00" height="2.60" fill="#000"/>
<g filter="url(#bsh)">
<rect x="666.85" y="650.25" width="20.20" height="0.95" fill="#000" stroke="#000" stroke-width="1.3"/>
<rect x="688.35" y="648.95" width="20.40" height="2.25" fill="#b3b3b3" stroke="#000" stroke-width="1.3"/>
</g>
<rect x="729.45" y="640.50" width="2.80" height="6.10" fill="#000"/>
<rect x="726.35" y="640.50" width="9.00" height="2.60" fill="#000"/>
<rect x="750.40" y="607.40" width="2.80" height="13.20" fill="#000"/>
<rect x="747.30" y="607.40" width="9.00" height="2.60" fill="#000"/>
<g filter="url(#bsh)">
<rect x="721.15" y="646.25" width="19.40" height="4.95" fill="#000" stroke="#000" stroke-width="1.3"/>
<rect x="741.85" y="620.25" width="19.90" height="30.95" fill="#b3b3b3" stroke="#000" stroke-width="1.3"/>
</g>
<rect x="782.65" y="576.40" width="2.80" height="15.70" fill="#000"/>
<rect x="779.55" y="576.40" width="9.00" height="2.60" fill="#000"/>
<rect x="804.30" y="568.10" width="2.80" height="31.60" fill="#000"/>
<rect x="801.20" y="568.10" width="9.00" height="2.60" fill="#000"/>
<g filter="url(#bsh)">
<rect x="774.35" y="591.75" width="19.40" height="59.45" fill="#000" stroke="#000" stroke-width="1.3"/>
<rect x="795.05" y="599.35" width="21.30" height="51.85" fill="#b3b3b3" stroke="#000" stroke-width="1.3"/>
</g>
<rect x="837.25" y="506.40" width="2.80" height="19.00" fill="#000"/>
<rect x="834.15" y="506.40" width="9.00" height="2.60" fill="#000"/>
<rect x="858.18" y="535.70" width="2.80" height="45.80" fill="#000"/>
<rect x="855.08" y="535.70" width="9.00" height="2.60" fill="#000"/>
<g filter="url(#bsh)">
<rect x="829.05" y="525.05" width="19.20" height="126.15" fill="#000" stroke="#000" stroke-width="1.3"/>
<rect x="849.55" y="581.15" width="20.05" height="70.05" fill="#b3b3b3" stroke="#000" stroke-width="1.3"/>
</g>
<rect x="890.70" y="472.70" width="2.80" height="17.30" fill="#000"/>
<rect x="887.60" y="472.70" width="9.00" height="2.60" fill="#000"/>
<rect x="912.05" y="547.00" width="2.80" height="39.40" fill="#000"/>
<rect x="908.95" y="547.00" width="9.00" height="2.60" fill="#000"/>
<g filter="url(#bsh)">
<rect x="882.85" y="489.65" width="18.50" height="161.55" fill="#000" stroke="#000" stroke-width="1.3"/>
<rect x="902.65" y="586.05" width="21.60" height="65.15" fill="#b3b3b3" stroke="#000" stroke-width="1.3"/>
</g>
<path d="M564.10,586.80L564.10,579.80M561.07,585.05L567.13,581.55M561.07,581.55L567.13,585.05" stroke="#000" stroke-width="1.55" stroke-linecap="round" fill="none"/>
<path d="M575.80,586.80L575.80,579.80M572.77,585.05L578.83,581.55M572.77,581.55L578.83,585.05" stroke="#000" stroke-width="1.55" stroke-linecap="round" fill="none"/>
<path d="M590.85,630.70L590.85,623.70M587.82,628.95L593.88,625.45M587.82,625.45L593.88,628.95" stroke="#000" stroke-width="1.55" stroke-linecap="round" fill="none"/>
<path d="M641.65,639.10L641.65,632.10M638.62,637.35L644.68,633.85M638.62,633.85L644.68,637.35" stroke="#000" stroke-width="1.55" stroke-linecap="round" fill="none"/>
<path d="M653.35,639.10L653.35,632.10M650.32,637.35L656.38,633.85M650.32,633.85L656.38,637.35" stroke="#000" stroke-width="1.55" stroke-linecap="round" fill="none"/>
<path d="M670.95,638.80L670.95,631.80M667.92,637.05L673.98,633.55M667.92,633.55L673.98,637.05" stroke="#000" stroke-width="1.55" stroke-linecap="round" fill="none"/>
<path d="M682.65,638.80L682.65,631.80M679.62,637.05L685.68,633.55M679.62,633.55L685.68,637.05" stroke="#000" stroke-width="1.55" stroke-linecap="round" fill="none"/>
<path d="M691.95,630.70L691.95,623.70M688.92,628.95L694.98,625.45M688.92,625.45L694.98,628.95" stroke="#000" stroke-width="1.55" stroke-linecap="round" fill="none"/>
<path d="M703.65,630.70L703.65,623.70M700.62,628.95L706.68,625.45M700.62,625.45L706.68,628.95" stroke="#000" stroke-width="1.55" stroke-linecap="round" fill="none"/>
<path d="M729.90,634.20L729.90,627.20M726.87,632.45L732.93,628.95M726.87,628.95L732.93,632.45" stroke="#000" stroke-width="1.55" stroke-linecap="round" fill="none"/>
<path d="M752.35,594.90L752.35,587.90M749.32,593.15L755.38,589.65M749.32,589.65L755.38,593.15" stroke="#000" stroke-width="1.55" stroke-linecap="round" fill="none"/>
<path d="M778.20,567.40L778.20,560.40M775.17,565.65L781.23,562.15M775.17,562.15L781.23,565.65" stroke="#000" stroke-width="1.55" stroke-linecap="round" fill="none"/>
<path d="M789.90,567.40L789.90,560.40M786.87,565.65L792.93,562.15M786.87,562.15L792.93,565.65" stroke="#000" stroke-width="1.55" stroke-linecap="round" fill="none"/>
<path d="M805.85,558.05L805.85,551.05M802.82,556.30L808.88,552.80M802.82,552.80L808.88,556.30" stroke="#000" stroke-width="1.55" stroke-linecap="round" fill="none"/>
<path d="M831.75,498.35L831.75,491.35M828.72,496.60L834.78,493.10M828.72,493.10L834.78,496.60" stroke="#000" stroke-width="1.55" stroke-linecap="round" fill="none"/>
<path d="M843.45,498.35L843.45,491.35M840.42,496.60L846.48,493.10M840.42,493.10L846.48,496.60" stroke="#000" stroke-width="1.55" stroke-linecap="round" fill="none"/>
<path d="M886.25,464.60L886.25,457.60M883.22,462.85L889.28,459.35M883.22,459.35L889.28,462.85" stroke="#000" stroke-width="1.55" stroke-linecap="round" fill="none"/>
<path d="M897.95,464.60L897.95,457.60M894.92,462.85L900.98,459.35M894.92,459.35L900.98,462.85" stroke="#000" stroke-width="1.55" stroke-linecap="round" fill="none"/>
<path d="M914.00,538.90L914.00,531.90M910.97,537.15L917.03,533.65M910.97,533.65L917.03,537.15" stroke="#000" stroke-width="1.55" stroke-linecap="round" fill="none"/>
<line x1="552.80" y1="457.30" x2="552.80" y2="657.20" stroke="#000" stroke-width="1.6" />
<rect x="553.80" y="651.20" width="381.40" height="6.00" fill="#fff"/>
<line x1="552.00" y1="651.20" x2="931.00" y2="651.20" stroke="#000" stroke-width="1.8" />
<line x1="552.80" y1="651.20" x2="552.80" y2="657.20" stroke="#000" stroke-width="1.5" />
<line x1="605.90" y1="651.20" x2="605.90" y2="657.20" stroke="#000" stroke-width="1.5" />
<line x1="660.60" y1="651.20" x2="660.60" y2="657.20" stroke="#000" stroke-width="1.5" />
<line x1="713.90" y1="651.20" x2="713.90" y2="657.20" stroke="#000" stroke-width="1.5" />
<line x1="768.40" y1="651.20" x2="768.40" y2="657.20" stroke="#000" stroke-width="1.5" />
<line x1="821.90" y1="651.20" x2="821.90" y2="657.20" stroke="#000" stroke-width="1.5" />
<line x1="876.20" y1="651.20" x2="876.20" y2="657.20" stroke="#000" stroke-width="1.5" />
<line x1="930.20" y1="651.20" x2="930.20" y2="657.20" stroke="#000" stroke-width="1.5" />
<text transform="translate(491.24,770.36) rotate(-45)" x="0" y="0" font-size="15.50" textLength="130.51" lengthAdjust="spacingAndGlyphs">100 ng/mL CNF1</text>
<text transform="translate(551.05,765.25) rotate(-45)" x="0" y="0" font-size="15.50" textLength="123.09" lengthAdjust="spacingAndGlyphs">10 pg/mL CNFY</text>
<text transform="translate(597.80,771.80) rotate(-45)" x="0" y="0" font-size="15.50" textLength="132.36" lengthAdjust="spacingAndGlyphs">100 pg/mL CNFY</text>
<text transform="translate(665.40,758.70) rotate(-45)" x="0" y="0" font-size="15.50" textLength="113.83" lengthAdjust="spacingAndGlyphs">1 ng/mL CNFY</text>
<text transform="translate(712.35,765.25) rotate(-45)" x="0" y="0" font-size="15.50" textLength="123.09" lengthAdjust="spacingAndGlyphs">10 ng/mL CNFY</text>
<text transform="translate(760.10,771.80) rotate(-45)" x="0" y="0" font-size="15.50" textLength="132.36" lengthAdjust="spacingAndGlyphs">100 ng/mL CNFY</text>
<text transform="translate(827.61,758.29) rotate(-45)" x="0" y="0" font-size="15.50" textLength="113.25" lengthAdjust="spacingAndGlyphs">1 µg/mL CNFY</text>
<text transform="translate(503.00,681.13) rotate(-90)" x="0" y="0" font-size="17.00" textLength="217.98" lengthAdjust="spacingAndGlyphs">Normalized Fold Activation</text>
<rect x="961.00" y="588.20" width="10.60" height="10.30" fill="#000"/>
<rect x="961.30" y="624.80" width="10.60" height="10.60" fill="#b3b3b3" stroke="#000" stroke-width="1.7"/>
<text x="975.86" y="601.00" font-size="17.60" textLength="33.00" lengthAdjust="spacingAndGlyphs">8 Hr</text>
<text x="975.91" y="637.50" font-size="17.60" textLength="43.46" lengthAdjust="spacingAndGlyphs">16 Hr</text>
</svg>
</body></html>
